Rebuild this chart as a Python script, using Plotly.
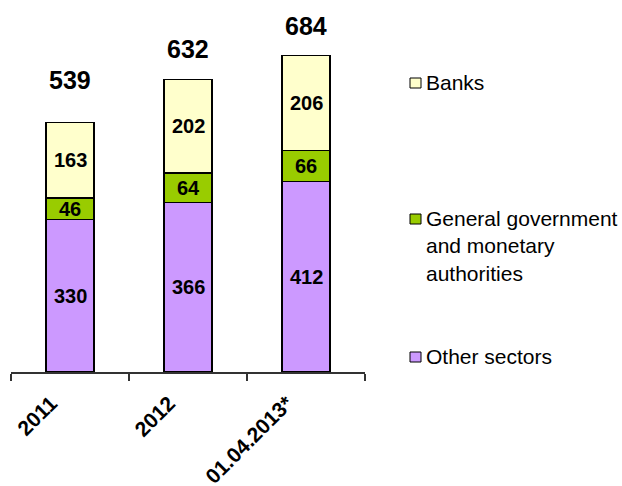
import plotly.graph_objects as go

categories = ["2011", "2012", "01.04.2013*"]
other_sectors = [330, 366, 412]
general_gov = [46, 64, 66]
banks = [163, 202, 206]
totals = [539, 632, 684]

series_names = ["Other sectors", "General government<br>and monetary<br>authorities", "Banks"]
colors = ["#CC99FF", "#99CC00", "#FFFFCC"]

FONT = "Liberation Sans, Arial, sans-serif"
W, H = 622, 486
PL, PR, PT, PB = 11, 365, 11, 372  # plot area in pixels
YMAX = 780

fig = go.Figure()
series_vals = [other_sectors, general_gov, banks]
for name, vals, col in zip(series_names, series_vals, colors):
    fig.add_trace(go.Bar(
        x=categories, y=vals, name=name,
        marker=dict(color=col, line=dict(color="#000000", width=1.3)),
        showlegend=False, hoverinfo="skip",
    ))

annotations = []
# segment labels (x given as category index)
for i, cat in enumerate(categories):
    base = 0
    for vals in series_vals:
        v = vals[i]
        annotations.append(dict(
            x=i, y=base + v / 2, xref="x", yref="y", text=f"<b>{v}</b>",
            showarrow=False, font=dict(family=FONT, size=20, color="#000000"),
            xanchor="center", yanchor="middle",
        ))
        base += v

# total labels
total_label_offsets_px = [43, 31, 29]
for i, (t, off) in enumerate(zip(totals, total_label_offsets_px)):
    annotations.append(dict(
        x=i, y=t, xref="x", yref="y", text=f"<b>{t}</b>",
        showarrow=False, font=dict(family=FONT, size=25, color="#000000"),
        xanchor="center", yanchor="middle", yshift=off,
    ))

# manual legend
def px_x(p):
    return (p - PL) / (PR - PL)

def px_y(p):
    return (PB - p) / (PB - PT)

legend_items = [("Banks", colors[2], 83),
                ("General government<br>and monetary<br>authorities", colors[1], 219),
                ("Other sectors", colors[0], 357)]
shapes = []
for label, col, yc in legend_items:
    shapes.append(dict(type="rect", xref="paper", yref="paper",
                       x0=px_x(410), x1=px_x(421), y0=px_y(yc - 5), y1=px_y(yc + 5),
                       fillcolor=col, line=dict(color="#000000", width=1)))
    annotations.append(dict(
        x=px_x(424), y=px_y(yc - 14), xref="paper", yref="paper", text=label,
        showarrow=False, font=dict(family=FONT, size=21, color="#000000"),
        xanchor="left", yanchor="top", align="left",
    ))

fig.update_layout(
    width=W, height=H,
    margin=dict(l=PL, r=W - PR, t=PT, b=H - PB, pad=0),
    barmode="stack", bargap=0.593,
    paper_bgcolor="white", plot_bgcolor="white",
    font=dict(family=FONT, color="#000000"),
    annotations=annotations, shapes=shapes,
    xaxis=dict(
        type="category", range=[-0.5, 2.5], automargin=False,
        showline=True, linecolor="#333333", linewidth=1.5,
        ticks="outside", tickson="boundaries", ticklen=7, tickcolor="#333333", tickwidth=1.5,
        tickangle=-45, tickfont=dict(family=FONT, size=21, color="#000000"),
        ticklabelshift=-19, ticklabelstandoff=9,
        tickvals=categories, ticktext=[f"<b>{c}</b>" for c in categories],
        showgrid=False, zeroline=False, fixedrange=True,
    ),
    yaxis=dict(range=[0, YMAX], visible=False, showgrid=False, zeroline=False,
               fixedrange=True, automargin=False),
)

fig.write_html("out.html", config={"displayModeBar": False})
